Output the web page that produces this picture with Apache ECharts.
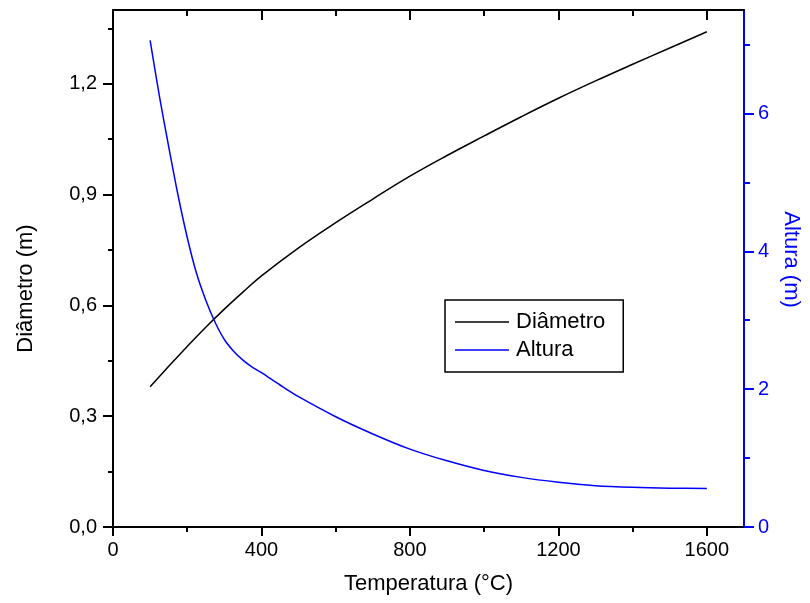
<!DOCTYPE html>
<html>
<head>
<meta charset="utf-8">
<script src="https://cdn.jsdelivr.net/npm/echarts@6/dist/echarts.min.js"></script>
<style>
  html, body { margin: 0; padding: 0; background: #fff; }
  #chart { width: 810px; height: 603px; }
</style>
</head>
<body>
<div id="chart"></div>
<script>
// dados
const tempDiametro = [100, 150, 200, 250, 300, 350, 400, 500, 600, 700, 800, 900, 1000, 1100, 1200, 1300, 1400, 1500, 1600];
const diametro = [0.38, 0.435, 0.489, 0.541, 0.590, 0.636, 0.680, 0.756, 0.824, 0.888, 0.950, 1.006, 1.059, 1.111, 1.161, 1.208, 1.253, 1.297, 1.341];

const tempAltura = [100, 125, 150, 175, 200, 225, 250, 275, 300, 325, 350, 375, 400, 450, 500, 600, 700, 800, 900, 1000, 1100, 1200, 1300, 1400, 1500, 1600];
const altura = [7.06, 6.25, 5.52, 4.82, 4.20, 3.68, 3.29, 2.97, 2.72, 2.55, 2.42, 2.32, 2.24, 2.06, 1.89, 1.60, 1.35, 1.13, 0.96, 0.82, 0.72, 0.65, 0.60, 0.575, 0.563, 0.56];

// marcas dos eixos
const xTicks = [0, 400, 800, 1200, 1600];
const xMinor = [200, 600, 1000, 1400];
const yLeftTicks = [0, 0.3, 0.6, 0.9, 1.2];
const yLeftMinor = [0.15, 0.45, 0.75, 1.05, 1.35];
const yRightTicks = [0, 2, 4, 6];
const yRightMinor = [1, 3, 5, 7];

const FONT = '"Liberation Sans", Arial, sans-serif';
const BLUE = '#0000ff';

let chart = echarts.init(document.getElementById('chart'));

// eixo "só marcas menores"
function minorAxis(base, values, len, inside) {
  return Object.assign({}, base, {
    axisLine: { show: false, onZero: false },
    axisTick: { show: true, inside: !!inside, length: len, customValues: values, lineStyle: { width: 2, color: base.axisLine.lineStyle.color } },
    axisLabel: { show: false },
    splitLine: { show: false },
    name: ''
  });
}

let xBottom = {
  type: 'value', position: 'bottom', min: 0, max: 1700,
  axisLine: { show: true, onZero: false, lineStyle: { color: '#000', width: 2 } },
  axisTick: { show: true, length: 9, customValues: xTicks, lineStyle: { width: 2 } },
  axisLabel: { customValues: xTicks, color: '#000', fontSize: 20, fontFamily: FONT, margin: 13, formatter: v => String(v) },
  splitLine: { show: false },
  name: 'Temperatura (°C)', nameLocation: 'middle', nameGap: 46,
  nameTextStyle: { color: '#000', fontSize: 22, fontFamily: FONT }
};
let xTop = {
  type: 'value', position: 'top', min: 0, max: 1700,
  axisLine: { show: true, onZero: false, lineStyle: { color: '#000', width: 2 } },
  axisTick: { show: true, inside: true, length: 10, customValues: xTicks, lineStyle: { width: 2 } },
  axisLabel: { show: false },
  splitLine: { show: false }
};
let yLeft = {
  type: 'value', position: 'left', min: 0, max: 1.4, alignTicks: false,
  axisLine: { show: true, onZero: false, lineStyle: { color: '#000', width: 2 } },
  axisTick: { show: true, length: 10, customValues: yLeftTicks, lineStyle: { width: 2 } },
  axisLabel: {
    customValues: yLeftTicks, color: '#000', fontSize: 20, fontFamily: FONT, margin: 16,
    formatter: v => v.toFixed(1).replace('.', ',')
  },
  splitLine: { show: false },
  name: 'Diâmetro (m)', nameLocation: 'middle', nameGap: 76,
  nameTextStyle: { color: '#000', fontSize: 22, fontFamily: FONT, padding: [0, 40, 0, 0] }
};
let yRight = {
  type: 'value', position: 'right', min: 0, max: 7.5, alignTicks: false,
  axisLine: { show: true, onZero: false, lineStyle: { color: BLUE, width: 2 } },
  axisTick: { show: true, length: 10, customValues: yRightTicks, lineStyle: { width: 2, color: BLUE } },
  axisLabel: { customValues: yRightTicks, color: BLUE, fontSize: 20, fontFamily: FONT, margin: 14 },
  splitLine: { show: false },
  name: 'Altura (m)', nameLocation: 'middle', nameGap: 36, nameRotate: -90,
  nameTextStyle: { color: BLUE, fontSize: 22, fontFamily: FONT, padding: [0, 18, 0, 0] }
};

let option = {
  animation: false,
  backgroundColor: '#fff',
  grid: { left: 113, right: 62, top: 10, bottom: 76 },
  legend: {
    orient: 'vertical', left: 445, top: 300,
    borderColor: '#000', borderWidth: 1.5,
    padding: [11, 18, 11, 10], itemWidth: 54, itemHeight: 1.5, itemGap: 6,
    icon: 'rect',
    textStyle: { color: '#000', fontSize: 22, fontFamily: FONT, padding: [0, 0, 0, 2] },
    data: ['Diâmetro', 'Altura']
  },
  xAxis: [xBottom, minorAxis(xBottom, xMinor, 5), xTop, minorAxis(xTop, xMinor, 6, true)],
  yAxis: [yLeft, minorAxis(yLeft, yLeftMinor, 5), yRight, minorAxis(yRight, yRightMinor, 6)],
  series: [
    {
      name: 'Diâmetro', type: 'line', xAxisIndex: 0, yAxisIndex: 0,
      symbol: 'none', smooth: 0.4,
      lineStyle: { color: '#000', width: 1.5 }, itemStyle: { color: '#000' },
      data: tempDiametro.map((t, i) => [t, diametro[i]])
    },
    {
      name: 'Altura', type: 'line', xAxisIndex: 0, yAxisIndex: 2,
      symbol: 'none', smooth: 0.3,
      lineStyle: { color: BLUE, width: 1.5 }, itemStyle: { color: BLUE },
      data: tempAltura.map((t, i) => [t, altura[i]])
    }
  ]
};
chart.setOption(option);
</script>
</body>
</html>
